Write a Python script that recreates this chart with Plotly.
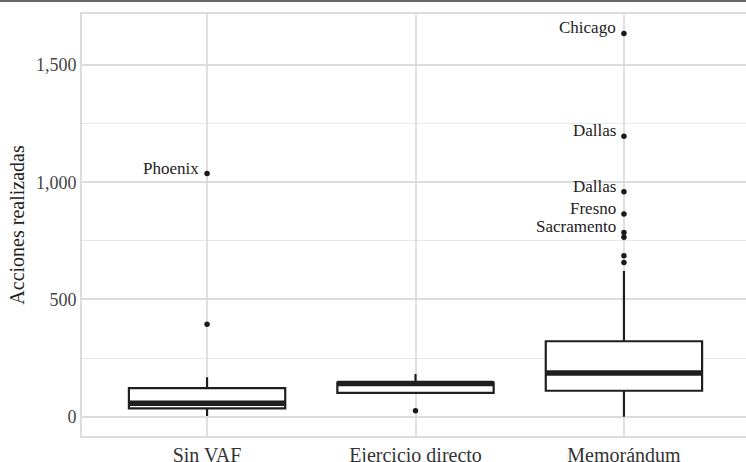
import plotly.graph_objects as go

categories = ["Sin VAF", "Ejercicio directo", "Memorándum"]
q1 = [36, 102, 111]
median = [58, 142, 187]
q3 = [122, 146, 322]
lower_fence = [3, 102, 0]
upper_fence = [168, 182, 621]

outlier_group = [0, 0, 1, 2, 2, 2, 2, 2, 2, 2, 2]
outlier_value = [394, 1037, 26, 658, 686, 765, 786, 864, 959, 1196, 1634]

label_group = [0, 2, 2, 2, 2, 2]
label_value = [1037, 786, 864, 959, 1196, 1634]
label_text = ["Phoenix", "Sacramento", "Fresno", "Dallas", "Dallas", "Chicago"]

y_ticks = [0, 500, 1000, 1500]
y_tick_text = ["0", "500", "1,000", "1,500"]

FONT = "Liberation Serif"
BOX_W = 0.75
pos = list(range(len(categories)))

fig = go.Figure()
fig.add_trace(go.Box(
    x=pos, q1=q1, median=median, q3=q3,
    lowerfence=lower_fence, upperfence=upper_fence,
    width=BOX_W, whiskerwidth=0, boxpoints=False,
    line=dict(color="#1f1f1f", width=2.2), fillcolor="white",
    showlegend=False, hoverinfo="skip",
))

# thick median lines (ggplot style)
mx, my = [], []
for p, m in zip(pos, median):
    mx += [p - BOX_W / 2, p + BOX_W / 2, None]
    my += [m, m, None]
fig.add_trace(go.Scatter(x=mx, y=my, mode="lines",
                         line=dict(color="#1f1f1f", width=5.5),
                         showlegend=False, hoverinfo="skip"))

fig.add_trace(go.Scatter(x=outlier_group, y=outlier_value, mode="markers",
                         marker=dict(color="#1a1a1a", size=5.5),
                         showlegend=False, hoverinfo="skip"))

for g, v, t in zip(label_group, label_value, label_text):
    fig.add_annotation(x=g, y=v, text=t, showarrow=False,
                       xanchor="right", yanchor="bottom", xshift=-6, yshift=-6,
                       font=dict(family=FONT, size=17, color="#222"))

fig.add_shape(type="line", xref="paper", yref="paper",
              x0=-82 / 664, x1=1, y0=1 + 13 / 422, y1=1 + 13 / 422,
              line=dict(color="#333", width=1.5))

fig.update_layout(
    width=746, height=462,
    margin=dict(l=82, r=0, t=14, b=26),
    paper_bgcolor="white", plot_bgcolor="white",
    font=dict(family=FONT, color="#444"),
    xaxis=dict(
        range=[-0.6, 2.5856], tickvals=pos, ticktext=categories,
        tickfont=dict(size=20, color="#333"), ticks="",
        showgrid=True, gridcolor="#e0e0e0", gridwidth=1.5,
        showline=True, mirror=True, linecolor="#dcdcdc", linewidth=2,
        zeroline=False, automargin=False,
    ),
    yaxis=dict(
        range=[-82, 1717], tickvals=y_ticks, ticktext=y_tick_text,
        tickfont=dict(size=18, color="#444"), ticks="",
        showgrid=True, gridcolor="#dcdcdc", gridwidth=2,
        minor=dict(tickvals=[250, 750, 1250], showgrid=True,
                   gridcolor="#e6e6e6", gridwidth=1),
        showline=True, linecolor="#dcdcdc", linewidth=2,
        zeroline=False, automargin=False,
        title=dict(text="Acciones realizadas", font=dict(size=20, color="#222"),
                   standoff=6),
    ),
)

fig.write_html("out.html", config={"displayModeBar": False},
               post_script="document.body.style.margin='0';document.body.style.overflow='hidden';")
